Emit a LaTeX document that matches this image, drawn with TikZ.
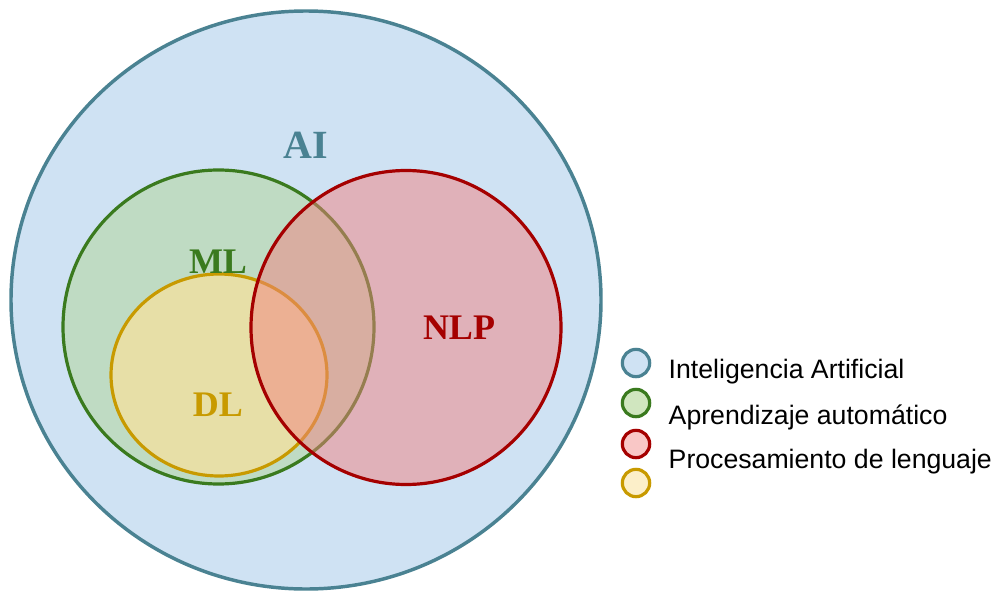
\documentclass[tikz,border=0pt]{standalone}
\usepackage{fontspec}
\setmainfont{Liberation Serif}
\newfontfamily\legendfont{Liberation Sans}
\usepackage{xcolor}
\usetikzlibrary{positioning}

\definecolor{aiFill}{RGB}{207,226,243}
\definecolor{aiLine}{RGB}{74,130,146}
\definecolor{mlFill}{RGB}{177,214,149}
\definecolor{mlLine}{RGB}{58,122,30}
\definecolor{nlpFill}{RGB}{241,130,129}
\definecolor{nlpLine}{RGB}{165,0,0}
\definecolor{dlFill}{RGB}{249,226,156}
\definecolor{dlLine}{RGB}{200,154,0}

\tikzset{
  setlabel/.style={font=\bfseries\fontsize{27}{27}\selectfont},
  legendmark/.style={circle, minimum size=20.5pt, inner sep=0pt, line width=2.4pt},
  legendtext/.style={anchor=west, font=\legendfont\fontsize{20}{20}\selectfont}
}

\begin{document}
\begin{tikzpicture}[x=0.75pt,y=-0.75pt]
    \useasboundingbox (0,0) rectangle (995,592);

    % Sets
    \filldraw[fill=aiFill, draw=aiLine, line width=2.6pt] (306,300) ellipse [x radius=295, y radius=289];
    \filldraw[fill=mlFill, fill opacity=0.5, draw=mlLine, draw opacity=1, line width=2.4pt] (218.5,327) ellipse [x radius=155.5, y radius=157];
    \filldraw[fill=dlFill, fill opacity=0.7, draw=dlLine, draw opacity=1, line width=2.4pt] (219,375) ellipse [x radius=108, y radius=101];
    \filldraw[fill=nlpFill, fill opacity=0.5, draw=nlpLine, draw opacity=1, line width=2.4pt] (406,327.5) ellipse [x radius=155, y radius=157];

    % Labels
    \node[setlabel, text=aiLine, font=\bfseries\fontsize{30}{30}\selectfont] (ai) at (306,145) {AI};
    \node[setlabel, text=mlLine] (ml) at (218,262) {ML};
    \node[setlabel, text=nlpLine] (nlp) at (459,328) {NLP};
    \node[setlabel, text=dlLine] (dl) at (218,405) {DL};

    % Legend
    \node[legendmark, fill=aiFill, draw=aiLine] (mAI) at (636,363) {};
    \node[legendmark, fill=mlFill!60!white, draw=mlLine] (mML) at (636,403) {};
    \node[legendmark, fill=nlpFill!45!white, draw=nlpLine] (mNLP) at (636,444) {};
    \node[legendmark, fill=dlFill!55!white, draw=dlLine] (mDL) at (636,483) {};
    \node[legendtext] (tAI) at (664,372) {Inteligencia Artificial};
    \node[legendtext] (tML) at (664,417) {Aprendizaje automático};
    \node[legendtext] (tNLP) at (664,462) {Procesamiento de lenguaje};
\end{tikzpicture}
\end{document}
